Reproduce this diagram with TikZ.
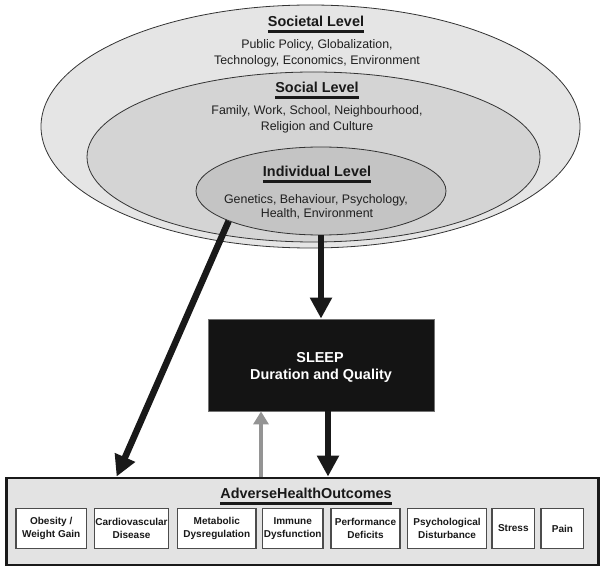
\documentclass[tikz,border=0pt]{standalone}
\usepackage{fontspec}
\setmainfont{Liberation Sans}
\usetikzlibrary{shapes.geometric,arrows.meta}
\begin{document}
\begin{tikzpicture}[x=1pt,y=1pt,
  lvl/.style={ellipse,draw=black!80,line width=0.8pt,inner sep=0pt},
  ttl/.style={font=\fontsize{14.4}{17}\selectfont\bfseries,inner sep=0pt,anchor=base,text=black!90},
  body/.style={font=\fontsize{12.4}{15}\selectfont,inner sep=0pt,anchor=base,text=black!88},
  ulline/.style={line width=2.6pt,draw=black!90},
  bigarrow/.style={line width=6.5pt,draw=black!90,-{Triangle[length=21pt,width=21pt]}},
  grayarrow/.style={line width=4.5pt,draw=black!42,-{Triangle[length=13pt,width=15pt]}},
  obox/.style={draw=black!70,line width=1.3pt,fill=white,minimum height=40pt,inner sep=0pt,align=center,font=\fontsize{10}{12.3}\selectfont\bfseries,text=black!90},
]
\useasboundingbox (0,0) rectangle (602,-572);

% ellipses
\node[lvl,fill=black!10,minimum width=539pt,minimum height=243pt] (societal) at (310.5,-126.5) {};
\node[lvl,fill=black!17,minimum width=453pt,minimum height=170pt] (social) at (313.5,-157) {};
\node[lvl,fill=black!23,minimum width=250pt,minimum height=88pt] (individual) at (321,-191) {};

% societal texts
\node[ttl] (t1) at (316,-27) {Societal Level};
\draw[ulline] ([yshift=-4.8pt]t1.base west) -- ([yshift=-4.8pt]t1.base east);
\node[body] (b1a) at (317,-48.5) {Public Policy, Globalization,};
\node[body] (b1b) at (317,-64.5) {Technology, Economics, Environment};

% social texts
\node[ttl] (t2) at (317,-93) {Social Level};
\draw[ulline] ([yshift=-4.8pt]t2.base west) -- ([yshift=-4.8pt]t2.base east);
\node[body] (b2a) at (317,-114.5) {Family, Work, School, Neighbourhood,};
\node[body] (b2b) at (317,-130.5) {Religion and Culture};

% individual texts
\node[ttl] (t3) at (317,-177) {Individual Level};
\draw[ulline] ([yshift=-4.8pt]t3.base west) -- ([yshift=-4.8pt]t3.base east);
\node[body] (b3a) at (316,-203.5) {Genetics, Behaviour, Psychology,};
\node[body] (b3b) at (317,-218) {Health, Environment};

% sleep box
\node[draw=black!55,line width=0.8pt,fill=black!92,minimum width=226pt,minimum height=92pt,inner sep=0pt] (sleep) at (321,-365) {};
\node[ttl,text=white] (s1) at (320,-362) {SLEEP};
\node[ttl,text=white] (s2) at (321,-379) {Duration and Quality};

% outcomes box
\node[draw=black!90,line width=2.8pt,fill=black!11,minimum width=592pt,minimum height=87pt,inner sep=0pt] (outcomes) at (302.5,-521.5) {};
\node[ttl] (t4) at (306,-498.5) {AdverseHealthOutcomes};
\draw[ulline,line width=3pt] ([yshift=-4.5pt]t4.base west) -- ([yshift=-4.5pt]t4.base east);

\node[obox,minimum width=70.5pt] (o1) at (51.2,-528.5) {Obesity /\\Weight Gain};
\node[obox,minimum width=74.3pt] (o2) at (131.5,-528.5) {Cardiovascular\\Disease};
\node[obox,minimum width=78.2pt] (o3) at (216.8,-528.5) {Metabolic\\Dysregulation};
\node[obox,minimum width=60.8pt] (o4) at (292.7,-528.5) {Immune\\Dysfunction};
\node[obox,minimum width=68.9pt] (o5) at (365.5,-528.5) {Performance\\Deficits};
\node[obox,minimum width=78.6pt] (o6) at (447.1,-528.5) {Psychological\\Disturbance};
\node[obox,minimum width=42.6pt] (o7) at (513.3,-528.5) {Stress};
\node[obox,minimum width=42.7pt] (o8) at (562.4,-528.5) {Pain};

% arrows
\coordinate (tipL) at ([xshift=111.5pt]outcomes.north west);
\draw[bigarrow] (individual.198) -- (tipL);
\draw[bigarrow] (individual.south) -- (individual.south |- sleep.north);
\draw[bigarrow] ([xshift=7pt]sleep.south) -- ([xshift=7pt]sleep.south |- outcomes.north);
\draw[grayarrow] ([xshift=-60pt]sleep.south |- outcomes.north) -- ([xshift=-60pt]sleep.south);
\end{tikzpicture}
\end{document}
